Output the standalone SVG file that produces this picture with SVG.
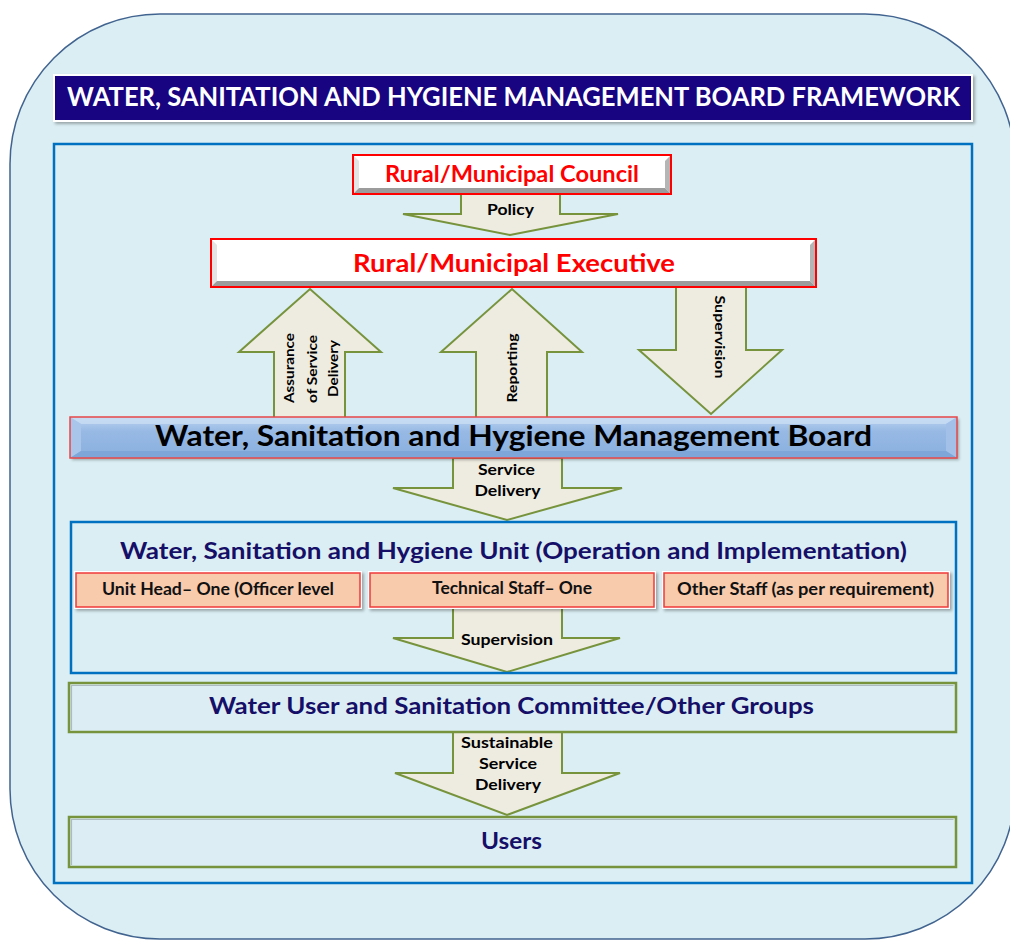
<svg xmlns="http://www.w3.org/2000/svg" width="1010" height="940" viewBox="0 0 1010 940">
  <defs>
    <style>
      text { font-family: Lato, "Liberation Sans", "Noto Sans", sans-serif; font-weight: bold; }
      .arrow { fill: #EEECE1; stroke: #77933C; stroke-width: 2; stroke-linejoin: miter; }
      .lbl { font-size: 15px; fill: #000; text-anchor: middle; }
      .vlbl { font-size: 14px; fill: #000; text-anchor: middle; }
      .red { fill: #FF0000; text-anchor: middle; }
      .navy { fill: #160F68; text-anchor: middle; }
      .frame { fill: none; stroke: #0070C0; stroke-width: 2.5; }
      .green { fill: #DCEEF4; stroke: #77933C; stroke-width: 2.5; }
      .staff { fill: #F8CBAD; stroke: #F03A3A; stroke-width: 1.5; }
      .staffText { font-size: 16.5px; fill: #111; text-anchor: middle; }
    </style>
    <filter id="shadow" x="-5%" y="-20%" width="110%" height="150%">
      <feDropShadow dx="2" dy="2" stdDeviation="1.5" flood-color="#000" flood-opacity="0.3"/>
    </filter>
    <linearGradient id="boardFill" x1="0" y1="0" x2="0" y2="1">
      <stop offset="0" stop-color="#BCD4F0"/>
      <stop offset="0.35" stop-color="#97B9E4"/>
      <stop offset="1" stop-color="#8AB0DF"/>
    </linearGradient>
  </defs>

  <!-- rounded backdrop -->
  <rect x="10" y="14" width="1005" height="925" rx="150" ry="150" fill="#DAEEF3" stroke="#41638F" stroke-width="1.5"/>

  <!-- heading bar -->
  <g id="title">
    <rect x="53" y="74" width="920" height="48" fill="#FFFFFF" filter="url(#shadow)"/>
    <rect x="55" y="76" width="916" height="44" fill="#180480"/>
    <text x="513.5" y="106" font-size="26" fill="#FFFFFF" text-anchor="middle" textLength="893" lengthAdjust="spacingAndGlyphs">WATER, SANITATION AND HYGIENE MANAGEMENT BOARD FRAMEWORK</text>
  </g>

  <!-- outer frame -->
  <rect id="frame" class="frame" x="54" y="144" width="918" height="739"/>

  <!-- block arrows -->
  <g id="connectors">
    <polygon class="arrow" points="461,194 560,194 560,214 618,214 510,235 403,214 461,214"/>
    <text class="lbl" x="510.5" y="215" textLength="47" lengthAdjust="spacingAndGlyphs">Policy</text>

    <polygon class="arrow" points="274,418 274,352 239,352 310,289 381,352 345,352 345,418"/>
    <g transform="translate(294,368) rotate(-90)"><text class="vlbl" x="0" y="0" textLength="70" lengthAdjust="spacingAndGlyphs">Assurance</text></g>
    <g transform="translate(317,369) rotate(-90)"><text class="vlbl" x="0" y="0" textLength="68" lengthAdjust="spacingAndGlyphs">of Service</text></g>
    <g transform="translate(338,368.5) rotate(-90)"><text class="vlbl" x="0" y="0" textLength="57" lengthAdjust="spacingAndGlyphs">Delivery</text></g>

    <polygon class="arrow" points="476,418 476,352 441,352 512,289 582,352 547,352 547,418"/>
    <g transform="translate(517,368) rotate(-90)"><text class="vlbl" x="0" y="0" textLength="69" lengthAdjust="spacingAndGlyphs">Reporting</text></g>

    <polygon class="arrow" points="676,287 746,287 746,350 782,350 711,414 639,350 676,350"/>
    <g transform="translate(715,337) rotate(90)"><text class="vlbl" x="0" y="0" textLength="83" lengthAdjust="spacingAndGlyphs">Supervision</text></g>

    <polygon class="arrow" points="453,458 562,458 562,488 622,488 507,520 393,488 453,488"/>
    <text class="lbl" x="506.5" y="475" textLength="57" lengthAdjust="spacingAndGlyphs">Service</text>
    <text class="lbl" x="507.5" y="496" textLength="66" lengthAdjust="spacingAndGlyphs">Delivery</text>

    <polygon class="arrow" points="453,607 562,607 562,638 620,638 507,672 393,638 453,638"/>
    <text class="lbl" x="507" y="645" textLength="92" lengthAdjust="spacingAndGlyphs">Supervision</text>

    <polygon class="arrow" points="453,732 562,732 562,773 620,773 507,815 395,773 453,773"/>
    <text class="lbl" x="507" y="748" textLength="92" lengthAdjust="spacingAndGlyphs">Sustainable</text>
    <text class="lbl" x="508" y="769" textLength="58" lengthAdjust="spacingAndGlyphs">Service</text>
    <text class="lbl" x="508" y="790" textLength="66" lengthAdjust="spacingAndGlyphs">Delivery</text>
  </g>

  <!-- council -->
  <g id="council">
    <rect x="353" y="155" width="318" height="39" fill="#FFFFFF"/>
    <polygon points="353,155 359,161 359,188 353,194" fill="#E4E4E4"/>
    <polygon points="671,155 671,194 665,188 665,161" fill="#B5B5B5"/>
    <polygon points="353,194 671,194 665,188 359,188" fill="#9C9C9C"/>
    <rect x="353" y="155" width="318" height="39" fill="none" stroke="#FF0000" stroke-width="2"/>
    <text class="red" x="512" y="182" font-size="22" textLength="254" lengthAdjust="spacingAndGlyphs">Rural/Municipal Council</text>
  </g>

  <!-- executive -->
  <g id="executive">
    <rect x="211" y="239" width="605" height="48" fill="#FFFFFF"/>
    <polygon points="211,239 217,245 217,281 211,287" fill="#E4E4E4"/>
    <polygon points="816,239 816,287 810,281 810,245" fill="#B5B5B5"/>
    <polygon points="211,287 816,287 810,281 217,281" fill="#9C9C9C"/>
    <rect x="211" y="239" width="605" height="48" fill="none" stroke="#FF0000" stroke-width="2"/>
    <text class="red" x="514" y="272" font-size="25" textLength="322" lengthAdjust="spacingAndGlyphs">Rural/Municipal Executive</text>
  </g>

  <!-- management board -->
  <g id="board">
    <rect x="70" y="417" width="887" height="41" fill="url(#boardFill)" filter="url(#shadow)"/>
    <polygon points="70,417 957,417 946,424 81,424" fill="#C9DDF4" opacity="0.8"/>
    <polygon points="70,417 81,424 81,451 70,458" fill="#A9C5EA"/>
    <polygon points="957,417 957,458 946,451 946,424" fill="#A2C0E8"/>
    <polygon points="70,458 957,458 946,451 81,451" fill="#7FA6D8"/>
    <rect x="70" y="417" width="887" height="41" fill="none" stroke="#E8474A" stroke-width="1.5"/>
    <text x="513.5" y="446" font-size="28" fill="#000" text-anchor="middle" textLength="717" lengthAdjust="spacingAndGlyphs">Water, Sanitation and Hygiene Management Board</text>
  </g>

  <!-- unit -->
  <g id="unit">
    <rect class="frame" x="71" y="522" width="885" height="151"/>
    <text class="navy" x="513.5" y="559" font-size="22" textLength="787" lengthAdjust="spacingAndGlyphs">Water, Sanitation and Hygiene Unit (Operation and Implementation)</text>
  </g>

  <g id="unit-head">
    <rect x="74" y="571" width="288" height="38" fill="#FFFFFF" filter="url(#shadow)"/>
    <rect class="staff" x="76" y="573" width="284" height="34"/>
    <text class="staffText" x="218" y="595" textLength="232" lengthAdjust="spacingAndGlyphs">Unit Head– One (Officer level</text>
  </g>
  <g id="technical-staff">
    <rect x="368" y="571" width="288" height="38" fill="#FFFFFF" filter="url(#shadow)"/>
    <rect class="staff" x="370" y="573" width="284" height="34"/>
    <text class="staffText" x="512" y="594" textLength="160" lengthAdjust="spacingAndGlyphs">Technical Staff– One</text>
  </g>
  <g id="other-staff">
    <rect x="662" y="571" width="288" height="38" fill="#FFFFFF" filter="url(#shadow)"/>
    <rect class="staff" x="664" y="573" width="284" height="34"/>
    <text class="staffText" x="805.5" y="595" textLength="257" lengthAdjust="spacingAndGlyphs">Other Staff (as per requirement)</text>
  </g>

  <!-- committee -->
  <g id="committee">
    <rect class="green" x="69" y="683" width="887" height="49"/>
    <polyline points="71.5,730 71.5,685.5 953.5,685.5" fill="none" stroke="#8E9A9E" stroke-width="1.2" opacity="0.6"/>
    <text class="navy" x="511.5" y="714" font-size="22" textLength="605" lengthAdjust="spacingAndGlyphs">Water User and Sanitation Committee/Other Groups</text>
  </g>

  <!-- users -->
  <g id="users">
    <rect class="green" x="69" y="817" width="887" height="50"/>
    <polyline points="71.5,865 71.5,819.5 953.5,819.5" fill="none" stroke="#8E9A9E" stroke-width="1.2" opacity="0.6"/>
    <text class="navy" x="511.5" y="849" font-size="22" textLength="61" lengthAdjust="spacingAndGlyphs">Users</text>
  </g>
</svg>
